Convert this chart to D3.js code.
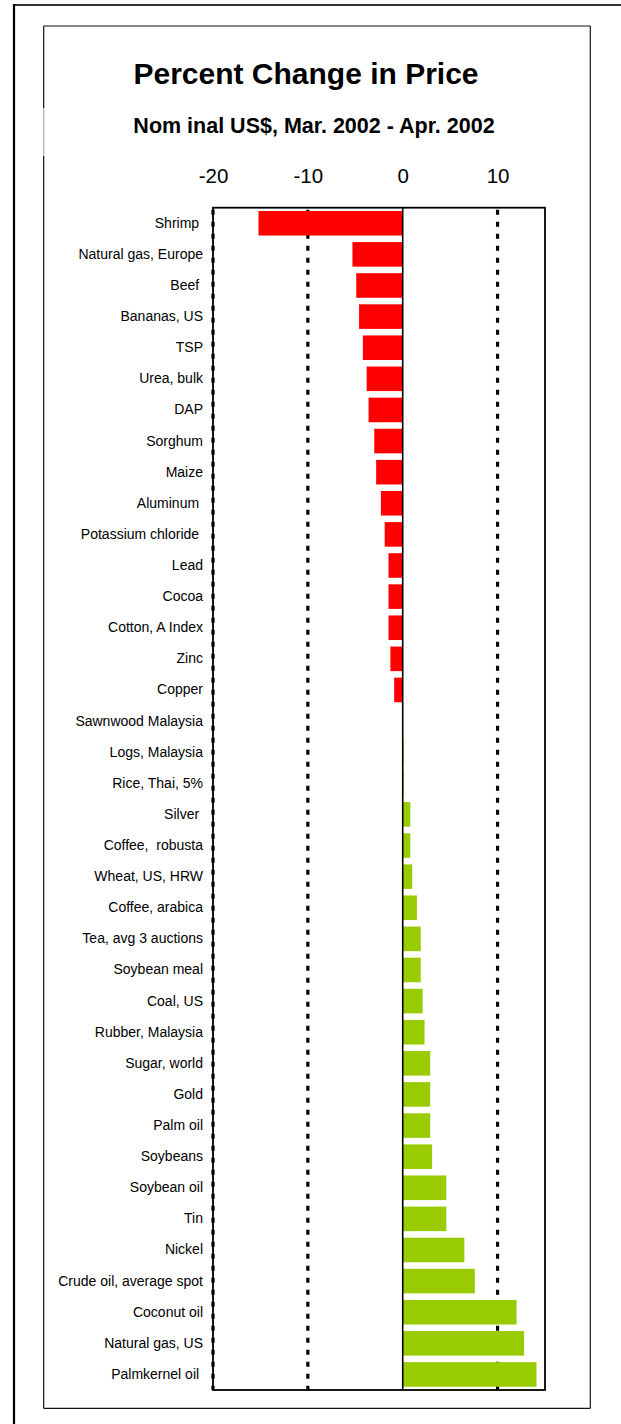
<!DOCTYPE html>
<html><head><meta charset="utf-8">
<script src="https://cdn.jsdelivr.net/npm/d3@7"></script>
<style>
body{margin:0;background:#fff}
svg{display:block}
text{font-family:"Liberation Sans",Arial,Helvetica,sans-serif;fill:#000}
.cat text{white-space:pre}
</style>
</head><body>
<svg id="chart" width="621" height="1424"></svg>
<script>
const categories = [
  "Shrimp ", "Natural gas, Europe", "Beef ", "Bananas, US", "TSP", "Urea, bulk", "DAP",
  "Sorghum", "Maize", "Aluminum ", "Potassium chloride ", "Lead", "Cocoa", "Cotton, A Index",
  "Zinc", "Copper", "Sawnwood Malaysia", "Logs, Malaysia", "Rice, Thai, 5%", "Silver ",
  "Coffee,  robusta", "Wheat, US, HRW", "Coffee, arabica", "Tea, avg 3 auctions", "Soybean meal",
  "Coal, US", "Rubber, Malaysia", "Sugar, world", "Gold", "Palm oil", "Soybeans", "Soybean oil",
  "Tin", "Nickel", "Crude oil, average spot", "Coconut oil", "Natural gas, US", "Palmkernel oil "
];
const values = [
  -15.2, -5.3, -4.9, -4.6, -4.2, -3.8, -3.6,
  -3.0, -2.8, -2.3, -1.9, -1.5, -1.5, -1.5,
  -1.3, -0.9, 0.0, 0.1, 0.1, 0.8,
  0.8, 1.0, 1.5, 1.9, 1.9,
  2.1, 2.3, 2.9, 2.9, 2.9, 3.1, 4.6,
  4.6, 6.5, 7.6, 12.0, 12.8, 14.1
];
const xDomain = [-20, 15];
const tickValues = [-20, -10, 0, 10];
const tickLabels = ["-20", "-10", "0", "10"];
const gridValues = [-20, -10, 10];
const title = "Percent Change in Price";
const subtitle = "Nom inal US$, Mar. 2002 - Apr. 2002";

const svg = d3.select("#chart");
const pLeft = 213, pRight = 545, pTop = 207.7, pBottom = 1390;

const x = d3.scaleLinear().domain(xDomain).range([pLeft, pRight]);
const y = d3.scaleBand().domain(categories).range([pTop, pBottom])
  .paddingInner(0.21).paddingOuter(0.105);

// outer frame
svg.append("line").attr("x1", 14).attr("x2", 621).attr("y1", 5).attr("y2", 5)
  .attr("stroke", "#333").attr("stroke-width", 2);
svg.append("line").attr("x1", 14).attr("x2", 14).attr("y1", 4).attr("y2", 1424)
  .attr("stroke", "#000").attr("stroke-width", 2.2);

// inner frame
const fr = svg.append("g").attr("stroke-width", 1.2).attr("fill", "none");
fr.append("line").attr("x1", 43.7).attr("x2", 590.3).attr("y1", 26).attr("y2", 26).attr("stroke", "#111");
fr.append("line").attr("x1", 590.3).attr("x2", 590.3).attr("y1", 26).attr("y2", 1408.3).attr("stroke", "#111");
fr.append("line").attr("x1", 43.7).attr("x2", 590.3).attr("y1", 1408.3).attr("y2", 1408.3).attr("stroke", "#111");
fr.append("line").attr("x1", 43.7).attr("x2", 43.7).attr("y1", 26).attr("y2", 108).attr("stroke", "#111");
fr.append("line").attr("x1", 43.7).attr("x2", 43.7).attr("y1", 108).attr("y2", 156).attr("stroke", "#aaa");
fr.append("line").attr("x1", 43.7).attr("x2", 43.7).attr("y1", 156).attr("y2", 1408.3).attr("stroke", "#111");

// titles
svg.append("text").attr("x", 306).attr("y", 84).attr("text-anchor", "middle")
  .attr("font-size", 30).attr("font-weight", "bold").text(title);
svg.append("text").attr("x", 314).attr("y", 133).attr("text-anchor", "middle")
  .attr("font-size", 21.5).attr("font-weight", "bold").text(subtitle);

// gridlines
svg.append("g").selectAll("line").data(gridValues).join("line")
  .attr("x1", d => x(d)).attr("x2", d => x(d))
  .attr("y1", pTop + 2).attr("y2", pBottom)
  .attr("stroke", "#000").attr("stroke-width", 3.2)
  .attr("stroke-dasharray", "5,7");

// bars
svg.append("g").selectAll("rect").data(values).join("rect")
  .attr("x", d => x(Math.min(0, d)))
  .attr("width", d => Math.abs(x(d) - x(0)))
  .attr("y", (d, i) => y(categories[i]))
  .attr("height", y.bandwidth())
  .attr("fill", d => d < 0 ? "#FF0000" : "#99CC00");

// zero line
svg.append("line").attr("x1", x(0)).attr("x2", x(0)).attr("y1", pTop).attr("y2", pBottom)
  .attr("stroke", "#000").attr("stroke-width", 1.6);

// plot border
svg.append("rect").attr("x", pLeft).attr("y", pTop).attr("width", pRight - pLeft).attr("height", pBottom - pTop)
  .attr("fill", "none").attr("stroke", "#000").attr("stroke-width", 1.8);

// top axis labels
const xAxis = svg.append("g").attr("transform", "translate(0,183)")
  .call(d3.axisTop(x).tickValues(tickValues).tickSize(0).tickPadding(0)
    .tickFormat((d, i) => tickLabels[i]));
xAxis.select(".domain").remove();
xAxis.selectAll("text").attr("font-size", 20.5).attr("font-family", "'Liberation Sans', Arial, sans-serif").attr("fill", "#000");

// category labels
const yAxis = svg.append("g").attr("class", "cat").attr("transform", `translate(${pLeft},0)`)
  .call(d3.axisLeft(y).tickSize(0).tickPadding(10));
yAxis.select(".domain").remove();
yAxis.selectAll("text").attr("font-size", 14).attr("font-family", "'Liberation Sans', Arial, sans-serif").attr("fill", "#000");
</script>
</body></html>
